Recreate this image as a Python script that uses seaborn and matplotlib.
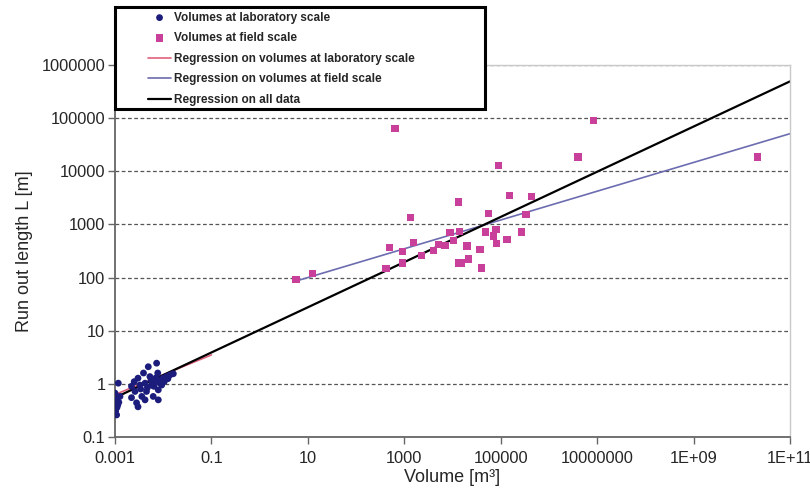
import numpy as np
import pandas as pd
import matplotlib
matplotlib.use("Agg")
import matplotlib.pyplot as plt
from matplotlib.patches import Rectangle
import seaborn as sns

# lab scale volumes [m3] and run out length [m]
lab_vol = [0.00117, 0.0010, 0.00108, 0.00114, 0.00103, 0.00108, 0.00127, 0.0012, 0.0011,
           0.0026, 0.0028, 0.0030, 0.0033, 0.0036, 0.0042, 0.0045, 0.0049, 0.0053,
           0.0058, 0.0062, 0.0068, 0.0073, 0.0077, 0.0079, 0.0079, 0.0086, 0.0093,
           0.0100, 0.0118, 0.0138, 0.0162, 0.0042, 0.0039, 0.0030, 0.0022, 0.0025,
           0.0034, 0.0047, 0.0056, 0.0064, 0.0071, 0.0083, 0.0095, 0.0105, 0.0125, 0.0022]
lab_len = [1.03, 0.67, 0.50, 0.40, 0.31, 0.26, 0.58, 0.45, 0.36,
           0.72, 0.44, 1.28, 0.95, 0.58, 1.03, 0.72, 2.1, 1.37,
           0.95, 0.58, 1.10, 2.45, 1.6, 0.77, 0.50, 1.19, 0.95,
           1.28, 1.37, 1.47, 1.55, 0.50, 1.6, 0.37, 0.90, 1.10,
           0.80, 0.85, 1.20, 0.90, 1.30, 1.05, 1.15, 1.10, 1.25, 0.55]

# field scale volumes [m3] and run out length [m]
field_vol = [5.7, 12.4, 644, 1360, 490, 419, 912, 912, 1550, 2300, 4000, 5100, 7000,
             8900, 10500, 13900, 13300, 13300, 15600, 20000, 21600, 37000, 40000,
             48000, 55600, 70000, 83000, 89000, 80000, 135000, 152000, 274000,
             333000, 440000, 4.0e6, 8.3e6, 2.1e10]
field_len = [92, 119, 64000, 1340, 372, 148, 313, 189, 452, 263, 327, 417, 400,
             700, 500, 730, 2630, 189, 189, 390, 223, 340, 151,
             717, 1620, 605, 437, 12900, 805, 525, 3550, 717,
             1550, 3390, 18600, 90000, 18600]

# regression lines (end points)
lab_reg_vol = [0.001, 0.1]
lab_reg_len = [0.63, 3.5]
field_reg_vol = [5.7, 1e11]
field_reg_len = [86, 51000]
all_reg_vol = [0.001, 1e11]
all_reg_len = [0.55, 492000]

xticks = [1e-3, 1e-1, 1e1, 1e3, 1e5, 1e7, 1e9, 1e11]
xtick_labels = ["0.001", "0.1", "10", "1000", "100000", "10000000", "1E+09", "1E+11"]
yticks = [0.1, 1, 10, 100, 1000, 10000, 100000, 1000000]
ytick_labels = ["0.1", "1", "10", "100", "1000", "10000", "100000", "1000000"]

sns.set_style("white")
plt.rcParams['font.family'] = ['Liberation Sans', 'DejaVu Sans']

fig = plt.figure(figsize=(8.1, 4.9), dpi=100)
ax = fig.add_axes([115/810, 1-437/490, 675/810, 372/490])
ax.set_xscale("log")
ax.set_yscale("log")

sns.scatterplot(x=lab_vol, y=lab_len, ax=ax, color="#1c1c7c", marker="o", s=24,
                edgecolor="none", label="Volumes at laboratory scale", zorder=3)
sns.scatterplot(x=field_vol, y=field_len, ax=ax, color="#c8409a", marker="s", s=28,
                edgecolor="none", label="Volumes at field scale", zorder=3)
sns.lineplot(x=lab_reg_vol, y=lab_reg_len, ax=ax, color="#e0607c", lw=1.2,
             label="Regression on volumes at laboratory scale", zorder=2)
sns.lineplot(x=field_reg_vol, y=field_reg_len, ax=ax, color="#6c6cb0", lw=1.2,
             label="Regression on volumes at field scale", zorder=2)
sns.lineplot(x=all_reg_vol, y=all_reg_len, ax=ax, color="black", lw=1.6,
             label="Regression on all data", zorder=2)

ax.set_xlim(1e-3, 1e11)
ax.set_ylim(0.1, 1e6)
ax.set_xticks(xticks)
ax.set_xticklabels(xtick_labels)
ax.set_yticks(yticks)
ax.set_yticklabels(ytick_labels)
ax.minorticks_off()
ax.tick_params(axis="both", direction="out", length=5, width=1, color="#666666",
               labelsize=11.8, pad=2, left=True, bottom=True)
ax.tick_params(axis="x", pad=5)
ax.grid(axis="y", linestyle=(0, (3, 2)), color="#555555", lw=0.9)
ax.set_axisbelow(True)

for s in ["left", "bottom"]:
    ax.spines[s].set_color("#666666")
    ax.spines[s].set_linewidth(1.3)
for s in ["top", "right"]:
    ax.spines[s].set_color("#c8c8c8")
    ax.spines[s].set_linewidth(1.0)

ax.set_xlabel("Volume [m³]", fontsize=13, labelpad=2)
ax.set_ylabel("Run out length L [m]", fontsize=13, labelpad=6)

handles, labels = ax.get_legend_handles_labels()
ax.get_legend().remove()

# legend frame
fig.patches.append(Rectangle((115/810, 1-109/490), 370/810, 102/490,
                             transform=fig.transFigure, facecolor="white",
                             edgecolor="black", lw=2.2, zorder=4))
leg = fig.legend(handles, labels, loc="upper left", bbox_to_anchor=(143/810, 1-7/490),
                 frameon=False, borderaxespad=0, borderpad=0.4, handlelength=2.0,
                 handletextpad=0.2, labelspacing=0.72,
                 prop={"weight": "bold", "size": 8.5})
leg.set_zorder(5)

fig.savefig("out.png", dpi=100)
